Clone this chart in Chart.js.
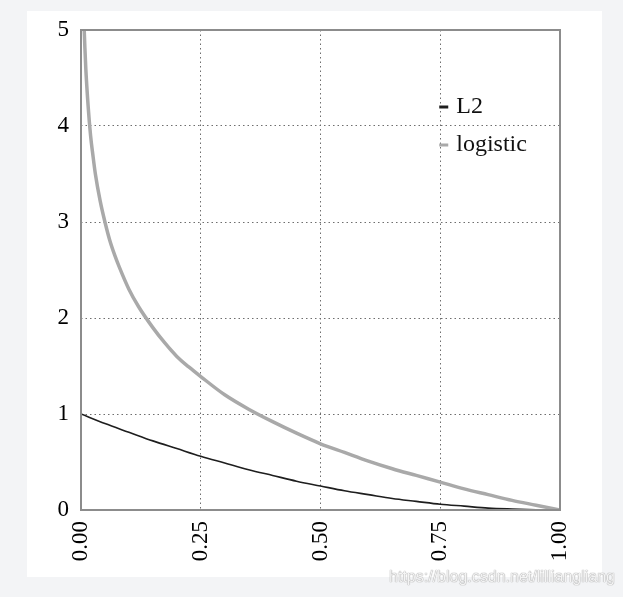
<!DOCTYPE html>
<html>
<head>
<meta charset="utf-8">
<script src="https://cdn.jsdelivr.net/npm/chart.js@4.4.0/dist/chart.umd.min.js"></script>
<style>
  html, body { margin: 0; padding: 0; background: #f3f4f6; }
  #wrap { position: relative; width: 623px; height: 597px; overflow: hidden; }
  #panel { position: absolute; left: 27px; top: 11px; width: 575px; height: 566px; background: #fff; }
  #chart { position: absolute; left: 0; top: 0; }
  #mark { position: absolute; right: 8px; top: 568px; font: 16px "Liberation Sans", Arial, sans-serif;
          color: #f4f4f4; text-shadow: 0 0 1px #9a9a9a, 0 0 1px #9a9a9a; }
</style>
</head>
<body>
<div id="wrap">
  <div id="panel"></div>
  <canvas id="chart" width="623" height="597"></canvas>
  <div id="mark">https://blog.csdn.net/lilliangliang</div>
</div>
<script>
// valeurs
const l2X = [0, 0.05, 0.1, 0.15, 0.2, 0.25, 0.3, 0.35, 0.4, 0.45, 0.5, 0.55, 0.6, 0.65, 0.7, 0.75, 0.8, 0.85, 0.9, 0.95, 1];
const l2Y = [1, 0.9, 0.81, 0.72, 0.64, 0.56, 0.49, 0.42, 0.36, 0.3, 0.25, 0.2, 0.16, 0.12, 0.09, 0.06, 0.04, 0.02, 0.01, 0.003, 0];

const logX = [0.0067, 0.008, 0.01, 0.015, 0.02, 0.025, 0.03, 0.04, 0.05, 0.06, 0.07, 0.08, 0.1, 0.12, 0.15, 0.175, 0.2, 0.225, 0.25, 0.3, 0.35, 0.4, 0.45, 0.5, 0.55, 0.6, 0.65, 0.7, 0.75, 0.8, 0.85, 0.9, 0.95, 1];
const logY = [5, 4.83, 4.6, 4.2, 3.9, 3.69, 3.5, 3.22, 3.0, 2.81, 2.66, 2.53, 2.3, 2.12, 1.9, 1.74, 1.6, 1.49, 1.39, 1.2, 1.05, 0.92, 0.8, 0.69, 0.6, 0.51, 0.43, 0.36, 0.29, 0.22, 0.16, 0.1, 0.05, 0];

const xTicks = [0, 0.25, 0.5, 0.75, 1];
const yTicks = [0, 1, 2, 3, 4, 5];
const seriesNames = ['L2', 'logistic'];
const seriesColors = ['#1e1e1e', '#a9a9a9'];

function toPoints(xs, ys) {
    return xs.map((x, i) => ({ x: x, y: ys[i] }));
}

const serif = '"Liberation Serif", "Times New Roman", serif';

// cadre + légende
const framePlugin = {
    id: 'frame',
    afterDatasetsDraw(chart) {
        const a = chart.chartArea;
        const ctx = chart.ctx;
        ctx.save();
        ctx.strokeStyle = '#8c8c8c';
        ctx.lineWidth = 2;
        ctx.strokeRect(a.left, a.top, a.right - a.left, a.bottom - a.top);
        ctx.restore();
    },
    afterDraw(chart) {
        const ctx = chart.ctx;
        const a = chart.chartArea;
        const lx = a.left + (a.right - a.left) * 0.75;
        ctx.save();
        ctx.font = '24px ' + serif;
        ctx.textBaseline = 'middle';
        chart.data.datasets.forEach((ds, i) => {
            const y = a.top + 77 + i * 38;
            ctx.strokeStyle = ds.borderColor;
            ctx.lineWidth = 3;
            ctx.beginPath();
            ctx.moveTo(lx - 1, y);
            ctx.lineTo(lx + 8, y);
            ctx.stroke();
            ctx.fillStyle = '#111';
            ctx.fillText(ds.label, lx + 16, y);
        });
        ctx.restore();
    }
};

const ctx = document.getElementById('chart').getContext('2d');
const chart = new Chart(ctx, {
    type: 'line',
    data: {
        datasets: [{
            label: seriesNames[0],
            data: toPoints(l2X, l2Y),
            borderColor: seriesColors[0],
            borderWidth: 1.6,
            pointRadius: 0,
            cubicInterpolationMode: 'monotone',
            fill: false
        }, {
            label: seriesNames[1],
            data: toPoints(logX, logY),
            borderColor: seriesColors[1],
            borderWidth: 3.5,
            pointRadius: 0,
            cubicInterpolationMode: 'monotone',
            fill: false
        }]
    },
    options: {
        responsive: false,
        animation: false,
        layout: { padding: { top: 30, right: 63, left: 0, bottom: 0 } },
        plugins: {
            legend: { display: false },
            tooltip: { enabled: false }
        },
        scales: {
            x: {
                type: 'linear',
                min: 0,
                max: 1,
                afterBuildTicks(scale) {
                    scale.ticks = xTicks.map(v => ({ value: v }));
                },
                afterFit(scale) { scale.height = 87; },
                ticks: {
                    minRotation: 90,
                    maxRotation: 90,
                    padding: 11,
                    color: '#000',
                    font: { family: serif, size: 23 },
                    callback: v => Number(v).toFixed(2)
                },
                grid: { color: '#6e6e6e', lineWidth: 1, drawTicks: false },
                border: { display: false, dash: [1.5, 3] }
            },
            y: {
                min: 0,
                max: 5,
                afterBuildTicks(scale) {
                    scale.ticks = yTicks.map(v => ({ value: v }));
                },
                afterFit(scale) { scale.width = 81; },
                ticks: {
                    padding: 12,
                    color: '#000',
                    font: { family: serif, size: 23 }
                },
                grid: { color: '#6e6e6e', lineWidth: 1, drawTicks: false },
                border: { display: false, dash: [1.5, 3] }
            }
        }
    },
    plugins: [framePlugin]
});
</script>
</body>
</html>
